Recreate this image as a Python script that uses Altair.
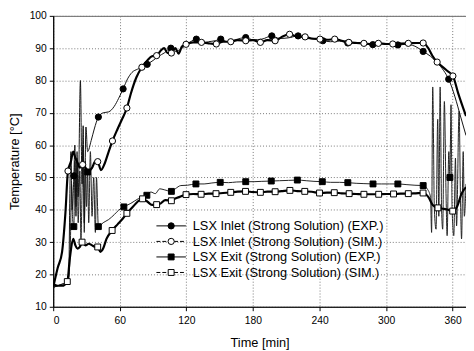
import altair as alt
import pandas as pd

# ---------------- data ----------------
inlet_exp_t = [0, 4, 8, 12, 14, 15, 16, 17, 18.6, 19.5, 20.5, 21.5, 22.5, 24.5, 26, 27, 28, 29.5, 31, 34.2,
               37, 40.7, 45, 50, 55, 59, 63, 67, 71, 76, 80, 84.7, 90, 95, 100, 106, 110, 114, 118, 123,
               129, 134, 140, 146, 151, 157, 164, 173.5, 180, 188, 197, 204, 212, 220.7, 228, 236, 243,
               250, 258, 265.5, 273, 280, 288, 295, 303, 310.6, 318, 326, 333.4, 340, 346, 352, 356.4,
               362, 367, 372]
inlet_exp_T = [16, 16.5, 17, 17.5, 19, 45, 58, 40, 50.5, 60, 38, 56, 44, 80, 48, 66, 36, 65.6, 58, 61.4,
               65, 68.7, 70, 70.3, 72, 74.5, 77.4, 80.5, 82.5, 83.5, 84, 85, 86.2, 87.5, 88.5, 90, 89, 89.5,
               90.5, 91.8, 92.8, 91.6, 92, 92.3, 92.8, 92, 92.6, 93.3, 92.6, 92.8, 93.8, 93, 93.2, 93.8, 93,
               92.8, 92.3, 92, 92.2, 91.6, 91.8, 91.4, 91.1, 91.4, 91.2, 91.0, 91.2, 90.6, 89, 87.5, 85.5,
               83, 80.4, 75, 69, 63]
inlet_exp_marks = [18.6, 40.7, 63, 84.7, 106, 129, 151, 173.5, 197, 220.7, 243, 265.5, 288, 310.6, 333.4, 356.4]

inlet_sim_t = [0, 4, 8, 11, 13.3, 16, 18, 20, 22, 24, 26.5, 29, 32, 35, 38, 40.1, 43, 46, 50, 53.4, 58, 62,
               66.4, 70, 75, 79.9, 85, 89, 93.2, 97, 100, 103, 106.5, 110, 113, 116, 119.7, 126, 133.6, 140,
               147, 153, 160, 166, 173.5, 180, 186.7, 193, 200, 206, 213, 220, 227, 233, 240.4, 247, 253.7,
               260, 266.4, 273, 280, 287, 293, 300, 306, 313, 320, 327, 333.4, 338, 342, 346, 350, 355,
               360.2, 365, 372]
inlet_sim_T = [16, 22, 27, 39, 52, 55, 58, 56, 54.5, 53, 54, 53, 52, 53, 55, 54.9, 52.3, 54, 58, 61.3, 65, 68,
               71.5, 76, 81, 84.1, 86.3, 87.5, 87.7, 89.3, 90, 88.5, 88.5, 90, 88.3, 90.5, 91.2, 91.8, 91.8,
               91.5, 91.3, 92, 92, 92.5, 92.3, 92.5, 91.8, 92.5, 92.3, 93.5, 94.3, 93.6, 93.5, 93, 92.8, 92.6,
               92.8, 92.3, 91.8, 91.6, 91.5, 91.2, 91.5, 91.3, 91.3, 91.4, 91.5, 91.6, 91.6, 90, 87.5, 85.7,
               84.5, 83, 81.4, 76, 69]
inlet_sim_marks = [13.3, 26.5, 40.1, 53.4, 66.4, 79.9, 93.2, 106.5, 119.7, 133.6, 147, 160, 173.5, 186.7, 200,
                   213, 227, 240.4, 253.7, 266.4, 280, 293, 306, 320, 333.4, 346, 360.2]

exit_exp_t = [0, 4, 8, 12, 14, 15.5, 16.5, 17.5, 18.6, 19.5, 20.5, 21.5, 22.5, 24, 25, 26, 27, 28, 29, 30, 31,
              32, 33.5, 35, 36.5, 38, 39, 40.7, 45, 50, 55, 59, 63.7, 70, 77, 84.4, 88, 92, 96, 100, 106.5,
              110, 115, 121, 128.6, 136, 143, 150.5, 158, 165, 173.5, 181, 188, 196.5, 204, 212, 220, 228,
              235, 242.5, 250, 258, 265.5, 273, 280, 288.2, 296, 303, 310.6, 318, 326, 333.4, 337, 340, 341,
              342, 343.5, 345, 346.5, 347.5, 348.7, 350, 351, 352.5, 354, 355, 356.5, 357.5, 358.5, 359.5,
              361, 362.5, 363.5, 365.8, 367, 368, 369.5, 370.5, 372]
exit_exp_T = [16, 16.5, 17, 17.5, 19, 30, 48, 37, 34.8, 55, 41, 58, 36, 52, 31, 46, 60, 33, 55, 41, 51.7,
              36, 58, 38, 50, 33, 50, 34.8, 36, 37, 38.5, 39.9, 40.9, 42, 43.5, 44.5, 45.5, 45, 46.5, 46.2,
              45.7, 46.5, 47.5, 47.6, 48, 48, 48.3, 48.5, 48.4, 48.6, 48.7, 48.7, 48.8, 48.9, 49, 49.1, 49.2,
              49, 48.8, 48.7, 48.5, 48.5, 48.4, 48.2, 48.1, 48, 48, 48, 48, 47.8, 47.6, 47.5, 46.5, 44, 33,
              78, 40, 34, 68, 38, 78, 40, 34, 73.5, 45, 32, 58, 50, 72.5, 40, 32, 56, 35, 70.5, 44, 31, 58,
              38, 48]
exit_exp_marks = [18.6, 31, 40.7, 63.7, 84.4, 106.5, 128.6, 150.5, 173.5, 196.5, 220, 242.5, 265.5, 288.2,
                  310.6, 333.4, 357.5]

exit_sim_t = [0, 4, 8, 12.7, 15, 18, 20, 22, 24, 26, 29, 32, 35, 38, 40.1, 42.5, 45, 48, 53.1, 58, 62, 66.4,
              72, 76, 80.5, 85, 89, 93.2, 97, 101, 106.5, 110, 114, 119.7, 126, 133.3, 140, 146.7, 153, 160,
              166, 173.3, 180, 186.7, 193, 200, 206, 213.3, 220, 226.7, 233, 240, 246.7, 253.3, 260, 266.7,
              273, 280, 286.7, 293.3, 300, 306.7, 313, 320, 326.7, 333.3, 338, 342, 346.7, 352, 356, 360,
              364, 368, 372]
exit_sim_T = [17, 16.5, 16.5, 17.8, 25, 31, 29, 28, 28.5, 30, 29, 29.5, 29, 28.5, 28.5, 27, 28, 31, 33.6,
              35.5, 37, 38.9, 41, 42.5, 43.4, 42.5, 41.5, 41.6, 42, 43, 42.8, 43.5, 44, 44.7, 44.9, 44.8, 45,
              45, 45.2, 45.4, 45.6, 45.7, 45.5, 45.4, 45.6, 45.6, 45.8, 46, 45.8, 45.7, 45.6, 45.2, 45.3, 45.3,
              45.1, 45, 44.9, 44.8, 44.8, 44.8, 44.9, 44.9, 45, 45, 45.1, 45.2, 44, 41.5, 40.6, 40.3, 40, 39.6,
              41, 45, 47]
exit_sim_marks = [12.7, 26, 40.1, 53.1, 66.4, 80.5, 93.2, 106.5, 119.7, 133.3, 146.7, 160, 173.3, 186.7, 200,
                  213.3, 226.7, 240, 253.3, 266.7, 280, 293.3, 306.7, 320, 333.3, 346.7, 360]

legend_labels = ["LSX Inlet (Strong Solution) (EXP.)",
                 "LSX Inlet (Strong Solution) (SIM.)",
                 "LSX Exit (Strong Solution) (EXP.)",
                 "LSX Exit (Strong Solution) (SIM.)"]

x_ticks = [0, 60, 120, 180, 240, 300, 360]
y_ticks = [10, 20, 30, 40, 50, 60, 70, 80, 90, 100]

FONT = "Liberation Sans"

# ---------------- build ----------------
def frame(t, T):
    return pd.DataFrame({"t": t, "T": T})

inlet_exp = frame(inlet_exp_t, inlet_exp_T)
inlet_sim = frame(inlet_sim_t, inlet_sim_T)
exit_exp = frame(exit_exp_t, exit_exp_T)
exit_sim = frame(exit_sim_t, exit_sim_T)

xs = alt.Scale(domain=[0, 372], nice=False, zero=False)
ys = alt.Scale(domain=[10, 100], nice=False, zero=False)

X = alt.X("t:Q", scale=xs, axis=alt.Axis(values=x_ticks, title="Time [min]"))
Y = alt.Y("T:Q", scale=ys, axis=alt.Axis(values=y_ticks, title="Temperature [°C]"))


def line(df, width, color="black"):
    return alt.Chart(df).mark_line(color=color, strokeWidth=width, interpolate="monotone", clip=True).encode(
        x=X, y=Y)


def marks(df, times, shape, filled):
    sub = df[df["t"].isin(times)]
    return alt.Chart(sub).mark_point(shape=shape, filled=True, size=40 if shape == "circle" else 36,
                                     fill="black" if filled else "white", stroke="black",
                                     strokeWidth=1, opacity=1, clip=True).encode(x=X, y=Y)


layers = [
    line(exit_exp, 1, "#222"),
    line(inlet_exp, 1, "#111"),
    line(exit_sim, 2.2),
    line(inlet_sim, 2.2),
    marks(exit_exp, exit_exp_marks, "square", True),
    marks(exit_sim, exit_sim_marks, "square", False),
    marks(inlet_exp, inlet_exp_marks, "circle", True),
    marks(inlet_sim, inlet_sim_marks, "circle", False),
]

# legend drawn inside the plot
styles = [("circle", True, None), ("circle", False, [4, 2]),
          ("square", True, None), ("square", False, [4, 2])]
for i, (lab, (shape, filled, dash)) in enumerate(zip(legend_labels, styles)):
    yy = 213.7 + i * 15.8
    ldf = pd.DataFrame({"label": [lab]})
    rule_kw = dict(color="black", strokeWidth=1)
    if dash:
        rule_kw["strokeDash"] = dash
    layers.append(alt.Chart(ldf).mark_rule(**rule_kw).encode(
        x=alt.value(105), x2=alt.value(135), y=alt.value(yy)))
    layers.append(alt.Chart(ldf).mark_point(shape=shape, filled=True, size=40 if shape == "circle" else 36,
                                            fill="black" if filled else "white", stroke="black",
                                            strokeWidth=1, opacity=1).encode(
        x=alt.value(120), y=alt.value(yy)))
    layers.append(alt.Chart(ldf).mark_text(align="left", baseline="middle", font=FONT, fontSize=13,
                                           color="black").encode(
        x=alt.value(142), y=alt.value(yy + 0.5), text="label:N"))

chart = alt.layer(*layers).properties(
    width=420, height=296,
    autosize=alt.AutoSizeParams(type="none"),
    padding={"left": 46, "top": 5, "right": 0, "bottom": 42},
).configure_view(
    stroke="#666", strokeWidth=1
).configure_axis(
    labelFont=FONT, titleFont=FONT, labelFontSize=10.5, titleFontSize=13,
    labelColor="black", titleColor="black", titleFontWeight="normal",
    domainColor="black", tickColor="black", tickSize=4, domainWidth=1.2,
    grid=True, gridColor="#777", gridDash=[1, 2], gridWidth=1, gridOpacity=1,
).configure_axisX(
    labelPadding=5, titlePadding=11
).configure_axisY(
    labelPadding=3, titlePadding=8
)

chart.save("out.html", embed_options={"renderer": "svg", "actions": False})
